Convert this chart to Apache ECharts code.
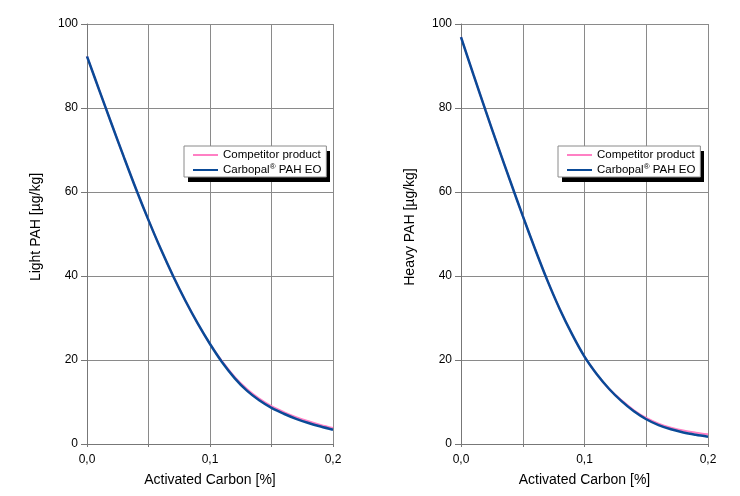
<!DOCTYPE html>
<html>
<head>
<meta charset="utf-8">
<script src="https://cdn.jsdelivr.net/npm/echarts@6/dist/echarts.min.js"></script>
<style>
html,body{margin:0;padding:0;background:#fff;}
#chart{width:740px;height:496px;}
</style>
</head>
<body>
<div id="chart"></div>
<script>
// ---- data ----
var carbonPct = [0, 0.01, 0.02, 0.03, 0.04, 0.05, 0.06, 0.07, 0.08, 0.09, 0.10,
                 0.11, 0.12, 0.13, 0.14, 0.15, 0.16, 0.17, 0.18, 0.19, 0.20];
var lightCompetitor = [92.3, 84.2, 76.2, 68.3, 60.6, 53.3, 46.4, 40.0, 34.1, 28.7, 23.8,
                       19.6, 16.0, 13.1, 10.8, 9.0, 7.6, 6.4, 5.4, 4.55, 3.8];
var lightCarbopal   = [92.3, 84.2, 76.2, 68.3, 60.6, 53.3, 46.4, 40.0, 34.1, 28.7, 23.8,
                       19.4, 15.7, 12.7, 10.4, 8.6, 7.2, 6.0, 5.0, 4.15, 3.4];
var heavyCompetitor = [96.9, 88.0, 79.3, 70.8, 62.5, 54.3, 46.4, 38.9, 32.1, 26.1, 20.8,
                       16.6, 13.1, 10.4, 8.05, 6.2, 4.85, 3.9, 3.2, 2.7, 2.3];
var heavyCarbopal   = [96.9, 88.0, 79.3, 70.8, 62.5, 54.3, 46.4, 38.9, 32.1, 26.1, 20.8,
                       16.6, 13.1, 10.2, 7.8, 5.9, 4.5, 3.5, 2.75, 2.2, 1.75];
var seriesNames = ['Competitor product', 'Carbopal® PAH EO'];
var xAxisTitle = 'Activated Carbon [%]';
var yAxisTitles = ['Light PAH [µg/kg]', 'Heavy PAH [µg/kg]'];

function pairs(ys) {
  return carbonPct.map(function (x, i) { return [x, ys[i]]; });
}

var FONT = '"Liberation Sans", Arial, sans-serif';
var GRID_COLOR = '#8a8a8a';
var PINK = '#ff80c4';
var BLUE = '#0a4a97';

function xAxisDef(idx) {
  return {
    gridIndex: idx, type: 'value', min: 0, max: 0.2, interval: 0.05,
    name: xAxisTitle, nameLocation: 'middle', nameGap: 29,
    nameTextStyle: { fontFamily: FONT, fontSize: 14, color: '#000' },
    axisLine: { show: true, lineStyle: { color: '#777', width: 1 } },
    axisTick: { show: true, length: 3, lineStyle: { color: '#777' } },
    splitLine: { show: true, lineStyle: { color: GRID_COLOR, width: 1 } },
    axisLabel: {
      fontFamily: FONT, fontSize: 12, color: '#000', margin: 10,
      formatter: function (v) {
        var k = Math.round(v * 100);
        if (k % 10 !== 0) return '';
        return (k / 100).toFixed(1).replace('.', ',');
      }
    }
  };
}
function yAxisDef(idx) {
  return {
    gridIndex: idx, type: 'value', min: 0, max: 100, interval: 20,
    name: yAxisTitles[idx], nameLocation: 'middle', nameGap: 44,
    nameTextStyle: { fontFamily: FONT, fontSize: 14, color: '#000', padding: [0, 0, 0, 14] },
    axisLine: { show: true, lineStyle: { color: '#777', width: 1 } },
    axisTick: { show: true, length: 6, lineStyle: { color: '#777' } },
    splitLine: { show: true, lineStyle: { color: GRID_COLOR, width: 1 } },
    axisLabel: { fontFamily: FONT, fontSize: 12, color: '#000', margin: 9 }
  };
}
function legendDef(left) {
  return {
    left: left, top: 146, orient: 'vertical', z: 10,
    data: seriesNames.map(function (n) { return { name: n, icon: 'rect' }; }),
    itemWidth: 25, itemHeight: 2, itemGap: 1,
    padding: [2, 5, 0, 9],
    backgroundColor: '#fff', borderColor: '#8a8a8a', borderWidth: 1,
    selectedMode: false,
    textStyle: {
      fontFamily: FONT, fontSize: 11.5, color: '#000', lineHeight: 14,
      rich: { sup: { fontFamily: FONT, fontSize: 8, color: '#000', verticalAlign: 'top', lineHeight: 14 } }
    },
    formatter: function (name) {
      if (name.indexOf('®') >= 0) return name.replace('®', '{sup|®}');
      return name;
    }
  };
}
function legendShadow(left) {
  return {
    type: 'rect', left: left + 4, top: 151, z: 9, silent: true,
    shape: { width: 142, height: 31 },
    style: { fill: '#000' }
  };
}
function lineSeries(name, xi, data, color, width, z) {
  return {
    name: name, type: 'line', xAxisIndex: xi, yAxisIndex: xi,
    data: pairs(data), smooth: 0.35, symbol: 'none', showSymbol: false,
    lineStyle: { color: color, width: width }, itemStyle: { color: color },
    z: z, animation: false
  };
}

var chart = echarts.init(document.getElementById('chart'), null, { renderer: 'canvas' });
chart.setOption({
  backgroundColor: '#fff',
  animation: false,
  grid: [
    { left: 87, top: 24, width: 246, height: 420 },
    { left: 461, top: 24, width: 247, height: 420 }
  ],
  xAxis: [xAxisDef(0), xAxisDef(1)],
  yAxis: [yAxisDef(0), yAxisDef(1)],
  legend: [legendDef(184), legendDef(558)],
  graphic: [legendShadow(184), legendShadow(558)],
  series: [
    lineSeries(seriesNames[0], 0, lightCompetitor, PINK, 2, 2),
    lineSeries(seriesNames[1], 0, lightCarbopal, BLUE, 2.5, 3),
    lineSeries(seriesNames[0], 1, heavyCompetitor, PINK, 2, 2),
    lineSeries(seriesNames[1], 1, heavyCarbopal, BLUE, 2.5, 3)
  ]
});
</script>
</body>
</html>
